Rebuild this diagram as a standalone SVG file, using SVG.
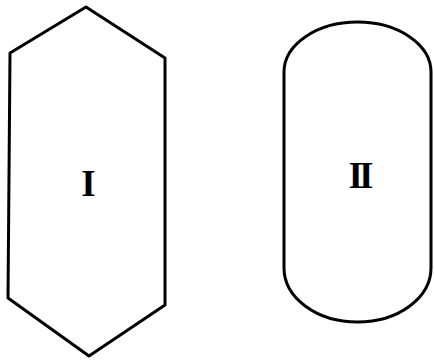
<svg xmlns="http://www.w3.org/2000/svg" width="434" height="360" viewBox="0 0 434 360">
<style>
.shape{fill:#fff;stroke:#000;stroke-width:3;stroke-linejoin:round}
.lbl{font-family:"Liberation Serif","DejaVu Serif",serif;font-weight:bold;font-size:37px;fill:#000;text-anchor:middle}
</style>
<rect width="434" height="360" fill="#fff"/>
<g id="node-I">
<polygon class="shape" points="10,53 86,7 165,58 165,305 89,356 8,298"/>
<text class="lbl" x="88.5" y="196">I</text>
</g>
<g id="node-II">
<path class="shape" d="M284,72 A73.5,50 0 0 1 431,72 L431,268 A73.5,54 0 0 1 284,268 Z"/>
<text class="lbl" x="359" y="188" letter-spacing="-4">II</text>
</g>
<g id="connectors"></g>
</svg>
